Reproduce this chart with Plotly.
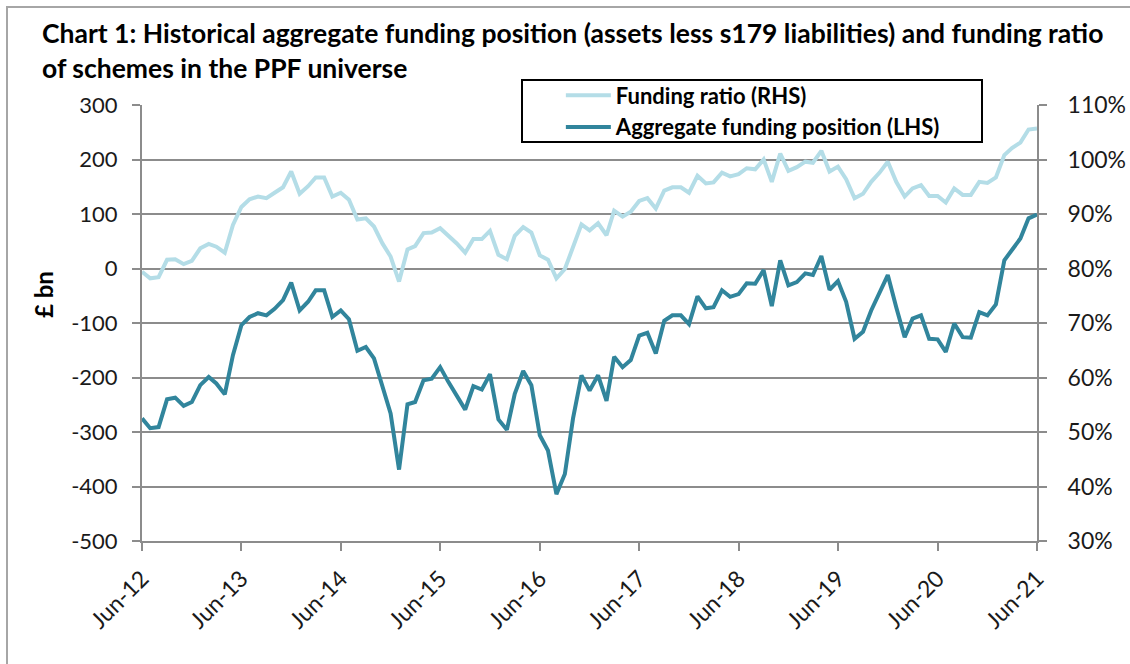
import pandas as pd
import plotly.graph_objects as go

# ---- data ----
months = pd.date_range("2012-06-01", periods=109, freq="MS")

funding_position = [
    -275, -293, -291, -240, -237, -252, -245, -214, -199, -211, -231, -159,
    -104, -89, -82, -86, -74, -58, -26, -77, -61, -40, -40, -89,
    -77, -93, -151, -144, -165, -214, -266, -369, -249, -245, -205, -202,
    -181, -208, -233, -259, -216, -222, -194, -277, -296, -230, -188, -214,
    -306, -334, -414, -377, -275, -196, -224, -196, -243, -162, -181, -168,
    -123, -118, -156, -96, -86, -86, -102, -51, -73, -71, -40, -52,
    -47, -27, -28, -3, -69, 15, -31, -25, -9, -12, 23, -39,
    -23, -61, -129, -116, -77, -46, -12, -71, -126, -92, -86, -129,
    -130, -153, -101, -126, -127, -80, -86, -66, 15, 34, 55, 92,
    99,
]

funding_ratio = [
    79.4, 78.2, 78.4, 81.6, 81.7, 80.8, 81.4, 83.7, 84.5, 84.0, 82.9, 88.0,
    91.3, 92.7, 93.2, 92.9, 93.9, 94.9, 97.8, 93.7, 95.1, 96.7, 96.7, 93.2,
    93.9, 92.6, 89.0, 89.2, 87.7, 84.6, 82.2, 77.6, 83.5, 84.1, 86.5, 86.6,
    87.4, 86.1, 84.6, 82.9, 85.4, 85.4, 86.9, 82.5, 81.7, 86.0, 87.6, 86.6,
    82.4, 81.6, 78.2, 79.9, 84.0, 88.1, 87.0, 88.3, 86.1, 90.6, 89.5, 90.4,
    92.4, 92.9, 91.0, 94.3, 94.9, 94.9, 93.9, 97.0, 95.6, 95.8, 97.6, 96.9,
    97.3, 98.4, 98.2, 100.0, 95.9, 101.1, 97.9, 98.6, 99.6, 99.4, 101.6, 97.8,
    98.7, 96.4, 92.9, 93.7, 95.9, 97.6, 99.6, 95.9, 93.2, 94.7, 95.3, 93.3,
    93.3, 92.1, 94.7, 93.5, 93.5, 95.9, 95.7, 96.7, 100.8, 102.1, 103.1, 105.5,
    105.7,
]

left_ticks = [300, 200, 100, 0, -100, -200, -300, -400, -500]
right_ticks = [110, 100, 90, 80, 70, 60, 50, 40, 30]
left_labels = [str(v) for v in left_ticks]
right_labels = [f"{v}%" for v in right_ticks]

title_line1 = "Chart 1: Historical aggregate funding position (assets less s179 liabilities) and funding ratio"
title_line2 = "of schemes in the PPF universe"

FONT = "Lato, 'Open Sans', sans-serif"
GRID = "#8c8c8c"
LIGHT = "#b4dde7"
DARK = "#31859c"

fig = go.Figure()
fig.add_trace(go.Scatter(
    x=months, y=funding_ratio, name="Funding ratio (RHS)", yaxis="y2",
    mode="lines", line=dict(color=LIGHT, width=4),
))
fig.add_trace(go.Scatter(
    x=months, y=funding_position, name="Aggregate funding position (LHS)", yaxis="y",
    mode="lines", line=dict(color=DARK, width=4),
))

fig.update_layout(
    width=1130, height=664,
    margin=dict(l=142, r=93, t=105, b=123, pad=0, autoexpand=False),
    paper_bgcolor="white", plot_bgcolor="white",
    font=dict(family=FONT, color="#1a1a1a", size=22),
    showlegend=True,
    legend=dict(
        x=0.468, y=1.07, xanchor="left", yanchor="top",
        bgcolor="rgba(0,0,0,0)", borderwidth=0,
        font=dict(family=FONT, size=22, color="black", weight="bold"),
        tracegroupgap=0, itemwidth=45,
    ),
    xaxis=dict(
        type="date", automargin=False,
        range=[months[0], months[-1]],
        tick0=months[0], dtick="M12", tickformat="%b-%y",
        tickangle=-45, ticks="outside", ticklen=8, tickwidth=2, tickcolor=GRID,
        showgrid=False, showline=True, linecolor=GRID, linewidth=2,
        tickfont=dict(size=23), ticklabelstandoff=5,
        zeroline=False,
    ),
    yaxis=dict(
        range=[-500, 300], tickvals=left_ticks, ticktext=left_labels,
        automargin=False, ticks="outside", ticklen=8,
        tickwidth=2, tickcolor=GRID, showgrid=True, gridcolor=GRID, gridwidth=2,
        showline=True, linecolor=GRID, linewidth=2, zeroline=False,
        tickfont=dict(size=22), ticklabelstandoff=10,
    ),
    yaxis2=dict(
        range=[30, 110], tickvals=right_ticks, ticktext=right_labels,
        automargin=False, overlaying="y", side="right", ticks="outside", ticklen=8,
        tickwidth=2, tickcolor=GRID, showgrid=False, showline=True, linecolor=GRID,
        linewidth=2, zeroline=False, tickfont=dict(size=23), ticklabelstandoff=16,
    ),
)

# legend box and outer frame
fig.add_shape(type="rect", xref="paper", yref="paper",
              x0=(522 - 142) / 895, x1=(982 - 142) / 895,
              y0=(541 - 142) / 436, y1=(541 - 80) / 436,
              line=dict(color="black", width=2), fillcolor="rgba(0,0,0,0)", layer="above")
fig.add_shape(type="rect", xref="paper", yref="paper",
              x0=(7 - 142) / 895, x1=(1150 - 142) / 895,
              y0=(541 - 700) / 436, y1=(541 - 7) / 436,
              line=dict(color="#a6a6a6", width=2), fillcolor="rgba(0,0,0,0)", layer="below")

# title
fig.add_annotation(text="<b>" + title_line1 + "</b>", xref="paper", yref="paper",
                   x=(40 - 142) / 895, y=(541 - 33) / 436, xanchor="left", yanchor="middle",
                   showarrow=False, font=dict(family=FONT, size=26.5, color="black"))
fig.add_annotation(text="<b>" + title_line2 + "</b>", xref="paper", yref="paper",
                   x=(40 - 142) / 895, y=(541 - 68) / 436, xanchor="left", yanchor="middle",
                   showarrow=False, font=dict(family=FONT, size=26.5, color="black"))
# y-axis title
fig.add_annotation(text="<b>£ bn</b>", xref="paper", yref="paper",
                   x=(43 - 142) / 895, y=(541 - 295) / 436, xanchor="center", yanchor="middle",
                   textangle=-90, showarrow=False, font=dict(family=FONT, size=24, color="black"))

fig.write_html("out.html")
